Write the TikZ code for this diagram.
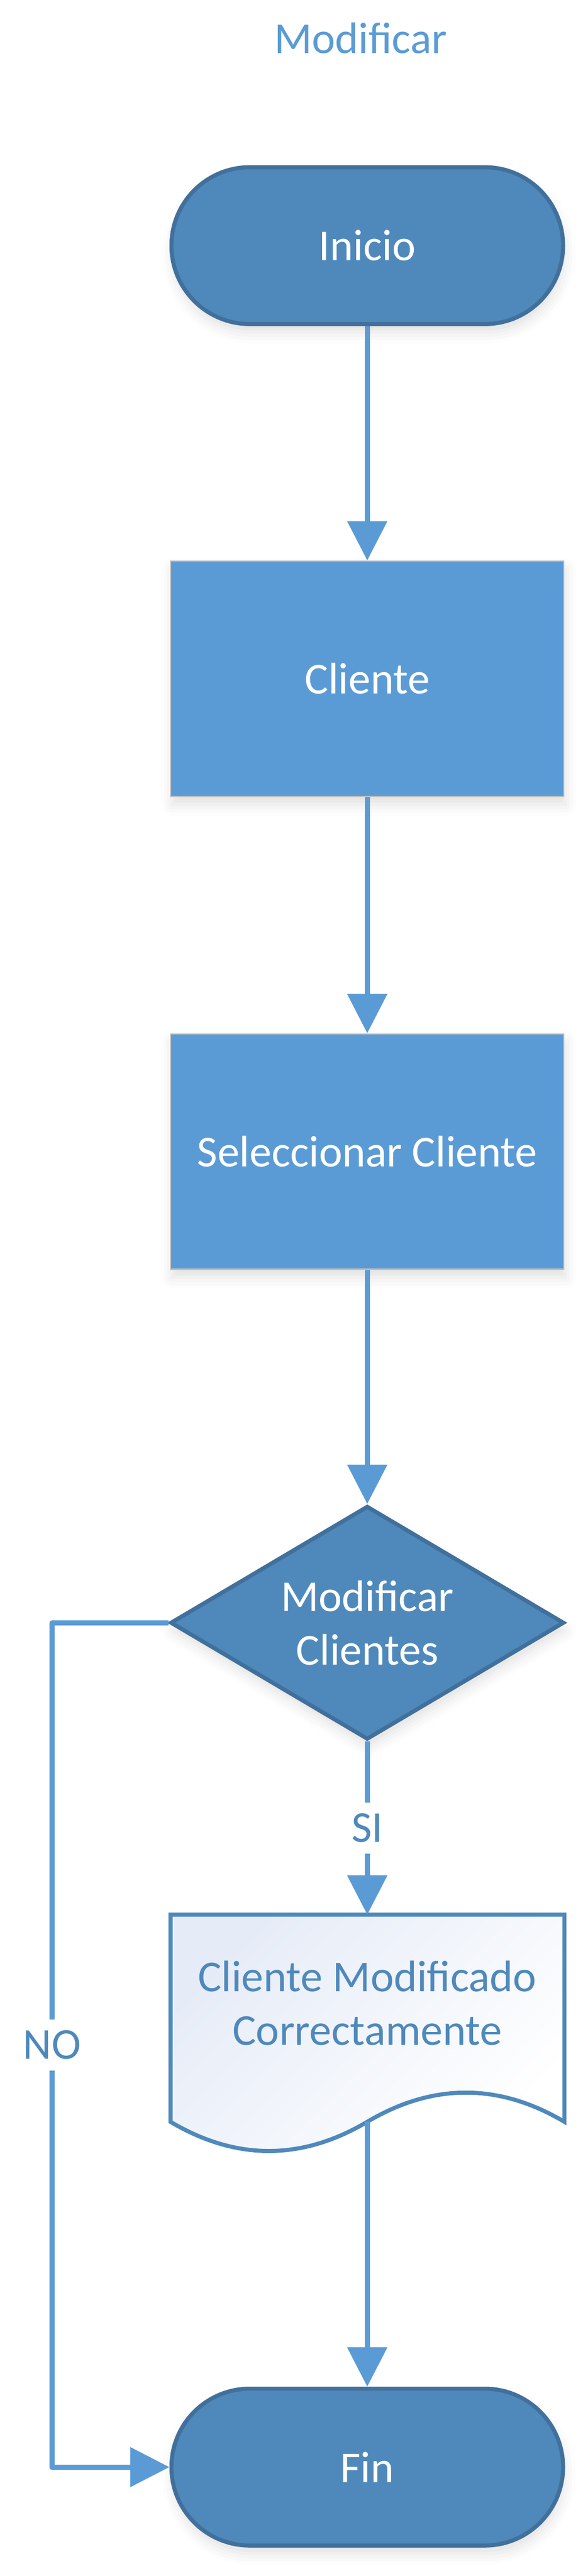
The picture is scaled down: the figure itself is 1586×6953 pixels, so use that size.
\documentclass[tikz,border=0pt]{standalone}
\usepackage{fontspec}
\setmainfont{Carlito}
\usepackage{tikz}
\usetikzlibrary{arrows.meta,shapes.geometric,shadows.blur}

\definecolor{termfill}{HTML}{4F89BB}
\definecolor{termline}{HTML}{41709C}
\definecolor{boxfill}{HTML}{5B9BD5}
\definecolor{boxline}{HTML}{BFBFBF}
\definecolor{flowblue}{HTML}{5B9BD5}
\definecolor{docblue}{HTML}{4F89BB}
\definecolor{docfill}{HTML}{E6ECF7}

\tikzset{
  txt/.style={font=\fontsize{33.9}{41}\selectfont, align=center},
  glow/.style={blur shadow={shadow xshift=0.04cm, shadow yshift=-0.22cm, shadow blur radius=0.3cm, shadow opacity=12}},
  terminal/.style={txt, glow, rectangle, rounded corners=2.11cm, draw=termline, line width=0.11cm, fill=termfill, text=white, minimum width=10.56cm, minimum height=4.23cm},
  process/.style={txt, glow, rectangle, draw=boxline, line width=0.03cm, fill=boxfill, text=white, minimum width=10.6cm, minimum height=6.35cm},
  decision/.style={txt, glow, diamond, aspect=1.69, draw=termline, line width=0.11cm, fill=termfill, text=white, minimum width=10.62cm, minimum height=6.3cm, inner sep=0pt},
  flow/.style={draw=flowblue, line width=0.14cm, line join=round, -{Triangle[length=1.06cm,width=1.05cm]}},
  lbl/.style={txt, fill=white, text=docblue, inner sep=0.3cm}
}

\begin{document}
\begin{tikzpicture}[x=0.01cm,y=-0.01cm]
        \useasboundingbox (0,0) rectangle (1586,6953);
        \node[txt, text=flowblue, anchor=base] (title) at (973,144) {Modificar};
        \node[terminal] (ini) at (991,663) {Inicio};
        \node[process] (cli) at (991,1832) {Cliente};
        \node[process] (sel) at (991,3108) {Seleccionar Cliente};
        \node[decision] (dec) at (991,4380) {Modificar\\Clientes};
        % documento
        \shade[draw=docblue, line width=0.11cm, top color=docfill, bottom color=white, shading angle=45] (460,5168) -- (1523,5168) -- (1523,5727)
            .. controls (1346,5622) and (1168,5622) .. (991,5727)
            .. controls (814,5832) and (637,5832) .. (460,5727) -- cycle;
        \coordinate (doctop) at (991,5168);
        \coordinate (docend) at (991,5727);
        \node[txt, text=docblue] (doc) at (991,5407) {Cliente Modificado\\Correctamente};
        \node[terminal] (fin) at (991,6659) {Fin};
        \coordinate (nocorner) at (140,4380);
        % flechas
        \draw[flow] (ini) -- (cli);
        \draw[flow] (cli) -- (sel);
        \draw[flow] (sel) -- (dec);
        \draw[flow] (dec.south) -- node[lbl] {SI} (doctop);
        \draw[flow] (docend) -- (fin);
        \draw[flow] (dec.west) -- (nocorner) |- node[lbl, pos=0.25] {NO} (fin.west);
    \end{tikzpicture}
\end{document}
